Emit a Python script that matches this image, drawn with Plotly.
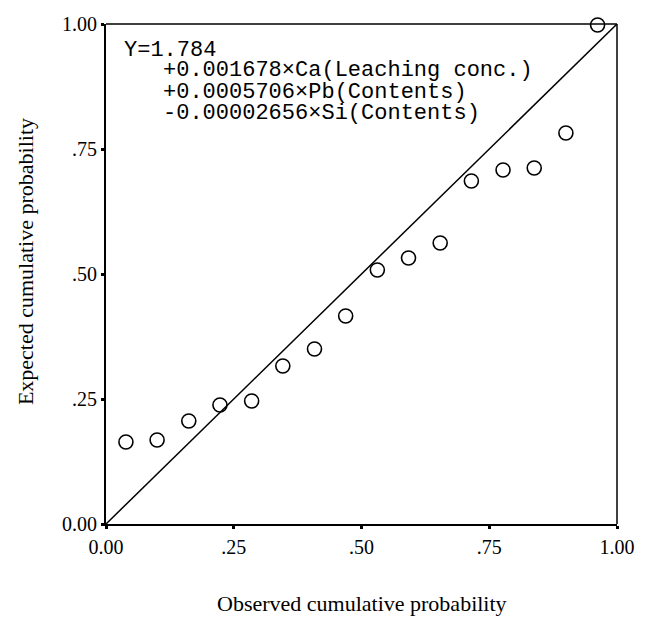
import plotly.graph_objects as go

# Data
observed_prob = [0.039, 0.100, 0.162, 0.223, 0.285, 0.346, 0.408, 0.469,
                 0.531, 0.592, 0.654, 0.715, 0.777, 0.838, 0.900, 0.962]
expected_prob = [0.164, 0.168, 0.206, 0.238, 0.246, 0.316, 0.350, 0.416,
                 0.508, 0.532, 0.562, 0.686, 0.708, 0.712, 0.782, 0.998]
ref_line = [0.0, 1.0]
tick_vals = [0.0, 0.25, 0.5, 0.75, 1.0]
tick_text = ["0.00", ".25", ".50", ".75", "1.00"]
eq_lines = ["Y=1.784",
            "+0.001678×Ca(Leaching conc.)",
            "+0.0005706×Pb(Contents)",
            "-0.00002656×Si(Contents)"]

W, H = 647, 621
L, R, T, B = 106, 23, 24, 97
pw, ph = W - L - R, H - T - B

def px_x(p):
    return (p - L) / pw

def px_y(p):
    return (H - B - p) / ph

fig = go.Figure()
fig.add_trace(go.Scatter(x=ref_line, y=ref_line, mode="lines",
                         line=dict(color="black", width=1.5),
                         hoverinfo="skip", showlegend=False))
fig.add_trace(go.Scatter(x=observed_prob, y=expected_prob, mode="markers",
                         marker=dict(symbol="circle-open", size=14,
                                     color="black", line=dict(width=1.6)),
                         cliponaxis=False, showlegend=False))

serif = "Liberation Serif, Times New Roman, serif"
axis_common = dict(range=[0, 1], tickvals=tick_vals, ticktext=tick_text,
                   showgrid=False, zeroline=False, showline=True,
                   linecolor="black", linewidth=2, ticks="outside",
                   ticklen=3, tickwidth=3, tickcolor="black",
                   tickfont=dict(family=serif, size=20, color="black"))
fig.update_xaxes(**axis_common, ticklabelstandoff=1)
fig.update_yaxes(**axis_common)

# thinner top and right frame lines
fig.add_shape(type="line", xref="paper", yref="paper", x0=0, x1=1, y0=1, y1=1,
              line=dict(color="black", width=1.5))
fig.add_shape(type="line", xref="paper", yref="paper", x0=1, x1=1, y0=0, y1=1,
              line=dict(color="black", width=1.5))

mono = "Liberation Mono, DejaVu Sans Mono, monospace"
line_x = [122, 161.6, 161.6, 161.6]
line_y = [50, 71, 92, 113]
for txt, lx, ly in zip(eq_lines, line_x, line_y):
    fig.add_annotation(text=txt, xref="paper", yref="paper",
                       x=px_x(lx), y=px_y(ly), xanchor="left", yanchor="middle",
                       showarrow=False, font=dict(family=mono, size=22, color="black"))

fig.add_annotation(text="Observed cumulative probability", xref="paper", yref="paper",
                   x=0.5, y=px_y(603), xanchor="center", yanchor="middle",
                   showarrow=False, font=dict(family=serif, size=22, color="black"))
fig.add_annotation(text="Expected cumulative probability", xref="paper", yref="paper",
                   x=px_x(24), y=px_y(262), xanchor="center", yanchor="middle", textangle=-90,
                   showarrow=False, font=dict(family=serif, size=22, color="black"))

fig.update_layout(width=W, height=H, margin=dict(l=L, r=R, t=T, b=B),
                  paper_bgcolor="white", plot_bgcolor="white")

fig.write_html("out.html")
